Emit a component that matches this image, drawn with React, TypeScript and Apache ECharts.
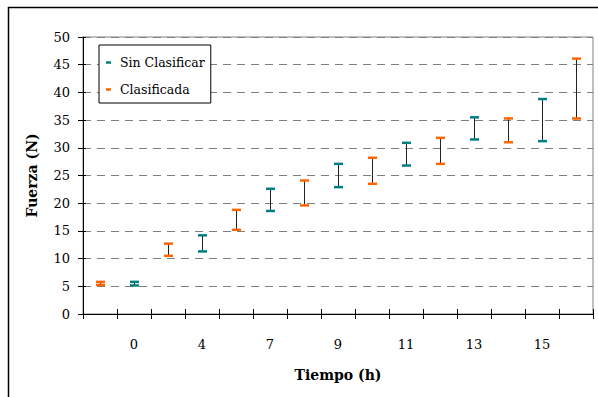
import React, { useEffect, useRef } from "react";
import * as echarts from "echarts";

const categories = ["", "0", "", "4", "", "7", "", "9", "", "11", "", "13", "", "15", ""];
const sinClasificarHigh = [null, 5.8, null, 14.2, null, 22.6, null, 27.1, null, 30.9, null, 35.5, null, 38.8, null];
const sinClasificarLow = [null, 5.15, null, 11.3, null, 18.6, null, 22.9, null, 26.8, null, 31.5, null, 31.2, null];
const clasificadaHigh = [5.8, null, 12.7, null, 18.8, null, 24.1, null, 28.2, null, 31.8, null, 35.3, null, 46.1];
const clasificadaLow = [5.25, null, 10.5, null, 15.2, null, 19.6, null, 23.5, null, 27.1, null, 31.0, null, 35.3];
const yTicks = { min: 0, max: 50, interval: 5 };

const FONT = "DejaVu Serif";
const TEAL = "#008080";
const ORANGE = "#FF6600";

function buildData(low: (number | null)[], high: (number | null)[]) {
  const out: number[][] = [];
  for (let i = 0; i < low.length; i++) {
    const l = low[i];
    const h = high[i];
    if (l != null && h != null) out.push([i, l, h]);
  }
  return out;
}

function makeRender(color: string) {
  return (params: any, api: any) => {
    const x = api.value(0);
    const pl = api.coord([x, api.value(1)]);
    const ph = api.coord([x, api.value(2)]);
    const cx = Math.round(pl[0]) + 0.5;
    return {
      type: "group",
      children: [
        {
          type: "line",
          shape: { x1: cx, y1: pl[1], x2: cx, y2: ph[1] },
          style: { stroke: "#222", lineWidth: 1 },
        },
        {
          type: "rect",
          shape: { x: cx - 4.5, y: ph[1] - 1.25, width: 9, height: 2.5 },
          style: { fill: color },
        },
        {
          type: "rect",
          shape: { x: cx - 4.5, y: pl[1] - 1.25, width: 9, height: 2.5 },
          style: { fill: color },
        },
      ],
    };
  };
}

export default function App() {
  const ref = useRef<HTMLDivElement>(null);
  useEffect(() => {
    if (!ref.current) return;
    const chart = echarts.init(ref.current, null, { renderer: "svg" });
    const option: any = {
      animation: false,
      backgroundColor: "#fff",
      textStyle: { fontFamily: FONT },
      graphic: [
        {
          type: "rect",
          z: -10,
          shape: { x: 8.5, y: 7.5, width: 800, height: 600 },
          style: { fill: "none", stroke: "#000", lineWidth: 1.5 },
        },
      ],
      grid: {
        left: 83,
        right: 5,
        top: 37,
        bottom: 83,
        show: true,
        borderColor: "#808080",
        borderWidth: 1,
        backgroundColor: "transparent",
      },
      legend: {
        left: 99,
        top: 45,
        orient: "vertical",
        backgroundColor: "#fff",
        borderColor: "#000",
        borderWidth: 1,
        borderRadius: 0,
        padding: [10, 6, 6, 7],
        itemGap: 12,
        itemWidth: 5,
        itemHeight: 2.5,
        icon: "rect",
        textStyle: { fontFamily: FONT, fontSize: 12.5, color: "#000", padding: [0, 0, 0, 4], lineHeight: 15 },
        data: ["Sin Clasificar", "Clasificada"],
      },
      xAxis: [
        {
          type: "category",
          data: categories,
          boundaryGap: true,
          name: "Tiempo (h)",
          nameLocation: "middle",
          nameGap: 54,
          nameTextStyle: { fontFamily: FONT, fontSize: 14, fontWeight: "bold", color: "#000" },
          axisLine: { lineStyle: { color: "#000", width: 1 } },
          axisTick: { show: true, interval: 0, length: 5, lineStyle: { color: "#000" } },
          axisLabel: { interval: 0, margin: 24, fontFamily: FONT, fontSize: 13, color: "#000" },
          splitLine: { show: false },
        },
        {
          type: "category",
          data: categories,
          boundaryGap: true,
          position: "bottom",
          axisLine: { show: false },
          axisTick: { show: true, inside: true, interval: 0, length: 5, lineStyle: { color: "#000" } },
          axisLabel: { show: false },
          splitLine: { show: false },
        },
      ],
      yAxis: [
        {
          type: "value",
          min: yTicks.min,
          max: yTicks.max,
          interval: yTicks.interval,
          name: "Fuerza (N)",
          nameLocation: "middle",
          nameGap: 44,
          nameTextStyle: { fontFamily: FONT, fontSize: 14, fontWeight: "bold", color: "#000" },
          axisLine: { show: true, lineStyle: { color: "#000", width: 1 } },
          axisTick: { show: true, length: 5, lineStyle: { color: "#000" } },
          axisLabel: { margin: 13, fontFamily: FONT, fontSize: 13, color: "#000" },
          splitLine: { show: true, lineStyle: { color: "#808080", type: [8, 6], width: 1 } },
        },
        {
          type: "value",
          min: yTicks.min,
          max: yTicks.max,
          interval: yTicks.interval,
          position: "left",
          axisLine: { show: false },
          axisTick: { show: true, inside: true, length: 3, lineStyle: { color: "#000" } },
          axisLabel: { show: false },
          splitLine: { show: false },
        },
      ],
      series: [
        {
          name: "Sin Clasificar",
          type: "custom",
          color: TEAL,
          itemStyle: { color: TEAL },
          xAxisIndex: 0,
          yAxisIndex: 0,
          encode: { x: 0, y: [1, 2] },
          renderItem: makeRender(TEAL),
          data: buildData(sinClasificarLow, sinClasificarHigh),
        },
        {
          name: "Clasificada",
          type: "custom",
          color: ORANGE,
          itemStyle: { color: ORANGE },
          xAxisIndex: 0,
          yAxisIndex: 0,
          encode: { x: 0, y: [1, 2] },
          renderItem: makeRender(ORANGE),
          data: buildData(clasificadaLow, clasificadaHigh),
        },
      ],
    };
    chart.setOption(option);
    return () => chart.dispose();
  }, []);
  return (
    <div
      ref={ref}
      style={{ position: "absolute", left: 0, top: 0, width: 598, height: 397 }}
    />
  );
}
